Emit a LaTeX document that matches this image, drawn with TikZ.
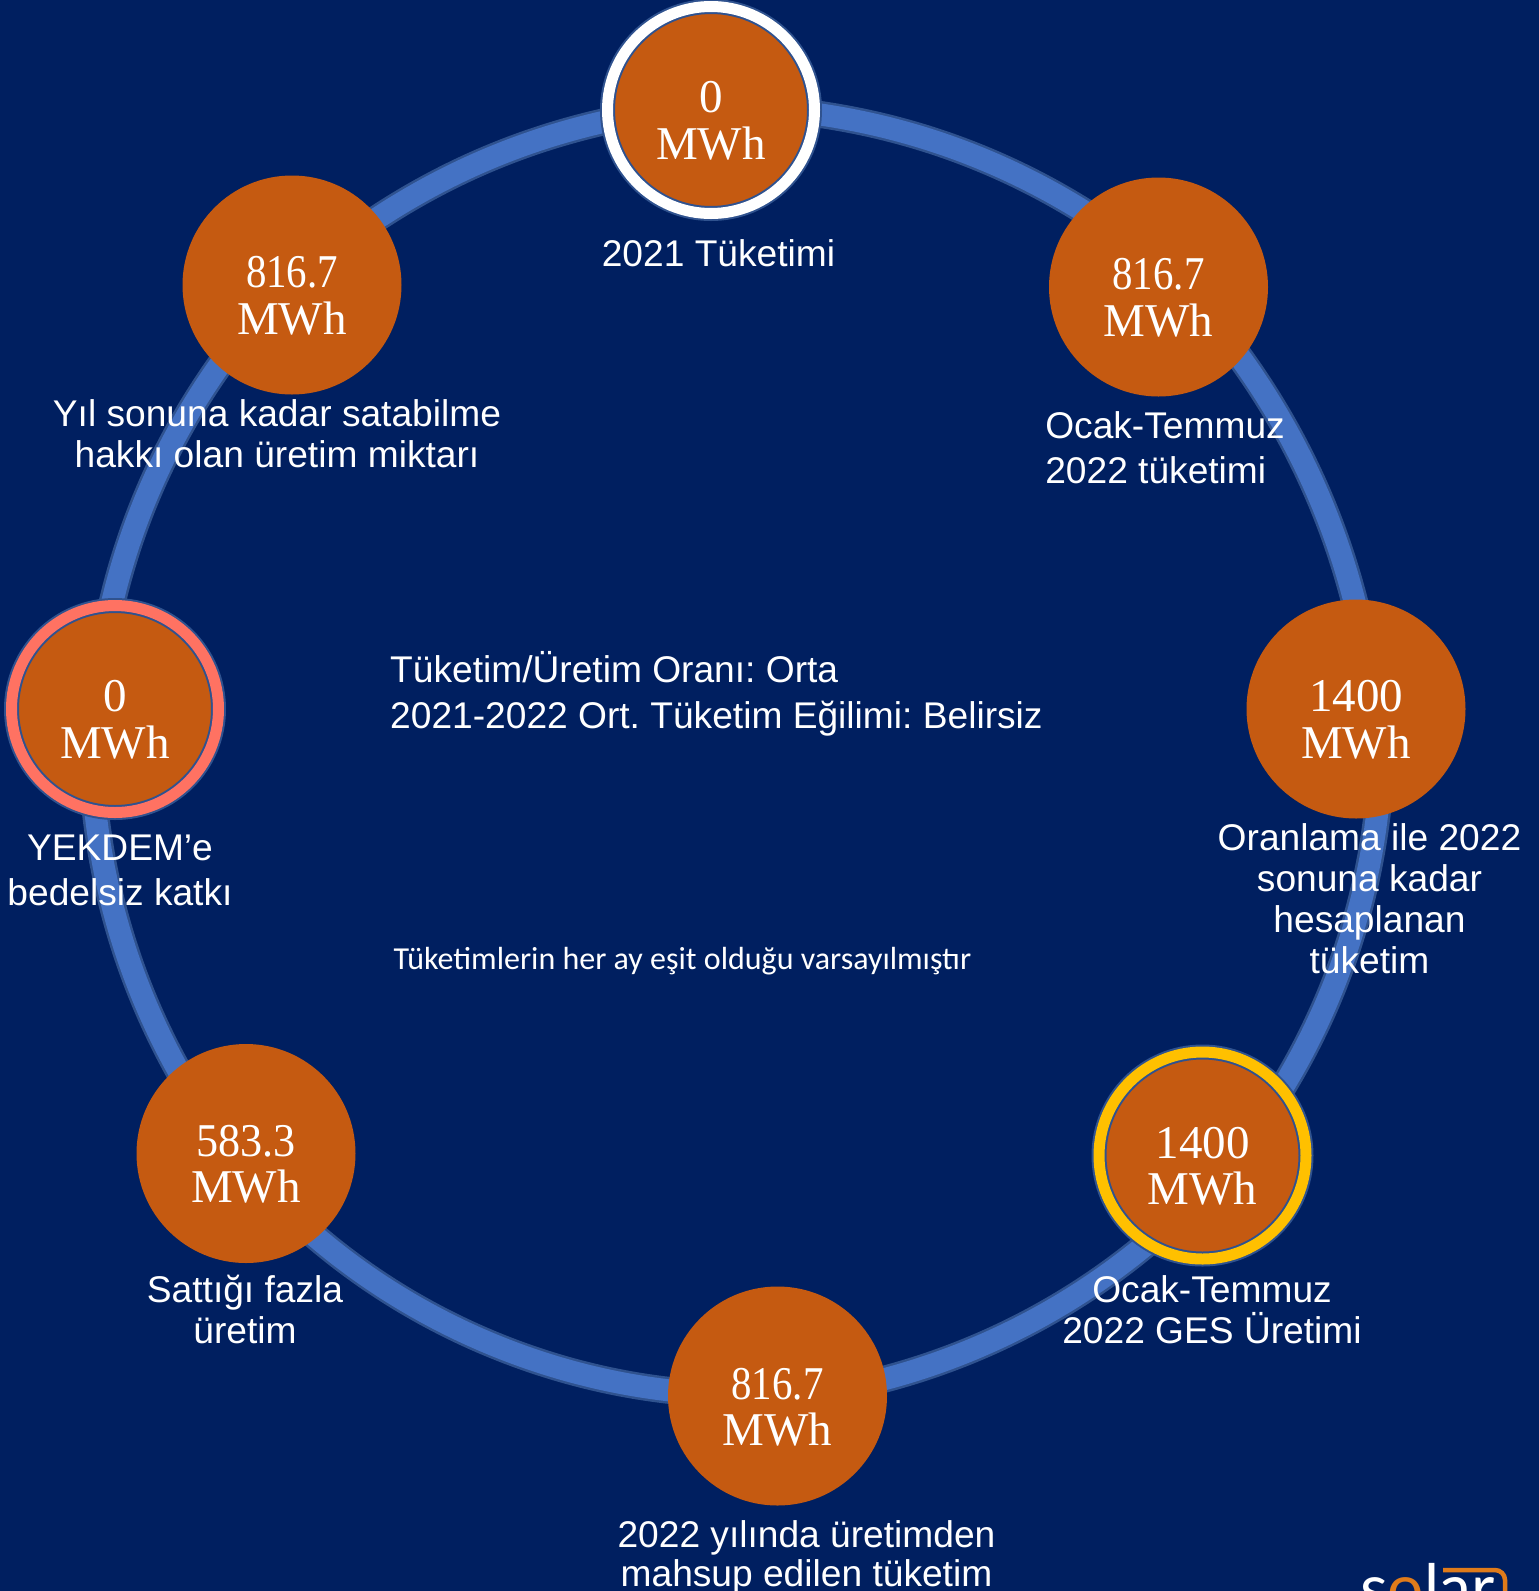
\documentclass[tikz,border=0pt]{standalone}
\usepackage{fontspec}
\setmainfont{Liberation Sans}
\newfontfamily\numfont{Liberation Serif}
\newfontfamily\numnarrow[FakeStretch=.87]{Liberation Serif}
\newfontfamily\numslim[FakeStretch=.94]{Liberation Serif}
\newfontfamily\notefont{Carlito}
\newfontfamily\logofont{Lato}
\usetikzlibrary{backgrounds}
\definecolor{navy}{HTML}{001F60}
\definecolor{ringblue}{HTML}{4472C4}
\definecolor{ringedge}{HTML}{2F528F}
\definecolor{burnt}{HTML}{C55A11}
\definecolor{coral}{HTML}{FF7262}
\definecolor{amber}{HTML}{FFC000}
\definecolor{logoorange}{HTML}{E07B1A}
\tikzstyle{amount} = [circle, minimum size=219, inner sep=0, outer sep=0, fill=burnt, text=white, align=center, text depth=0, font=\fontsize{47}{46}\selectfont\numfont]
\tikzstyle{ringed} = [amount, minimum size=207, draw=ringedge, line width=2, double distance=11]
\tikzstyle{caption} = [text=white, align=center, inner sep=0, font=\fontsize{37.15}{41}\selectfont\frenchspacing]
\tikzstyle{arcline} = [draw=ringedge, line width=2.5, double=ringblue, double distance=22, shorten <=-6pt, shorten >=-6pt]
\newcommand{\mwh}[1]{\raisebox{6pt}{\begin{tabular}{@{}c@{}}#1\\MWh\end{tabular}}}
\begin{document}
\begin{tikzpicture}[x=1pt,y=-1pt]
	\useasboundingbox (0,0) rectangle (1539,1591);
	% amounts round the ring
	\node [ringed, double=white] (tuketim) at (711,110) {\mwh{0}};
	\node [amount] (ocak) at (1158.5,287) {\mwh{{\numnarrow 816.7}}};
	\node [amount] (oranlama) at (1356,709) {\mwh{1400}};
	\node [ringed, double=amber] (ges) at (1202.5,1155.5) {\mwh{1400}};
	\node [amount] (mahsup) at (777.5,1396) {\mwh{{\numnarrow 816.7}}};
	\node [amount] (fazla) at (246,1153.5) {\mwh{{\numslim 583.3}}};
	\node [ringed, double=coral] (yekdem) at (115,709) {\mwh{0}};
	\node [amount] (hak) at (292,285) {\mwh{{\numnarrow 816.7}}};
	\begin{scope}[on background layer]
		\fill[navy] (0,0) rectangle (1539,1591);
		\foreach \a/\s/\b/\e/\v in {tuketim/-2.5/ocak/135/12.4, ocak/-41.5/oranlama/91.6/11, oranlama/-79.4/ges/40.2/12.7, ges/238/mahsup/9.8/12.9, mahsup/177.6/fazla/-50.8/17.4, fazla/129.3/yekdem/259.9/11.8, yekdem/92.1/hak/228.9/11.5, hak/38/tuketim/186.8/10.85}
			\draw[arcline] (\a.\s) to[bend left=\v, looseness=.85] (\b.\e);
	\end{scope}
	% labels
	\node [caption] (l1) at (718.5,253) {2021 Tüketimi};
	\node [caption, align=left] (l2) at (1165,448) {Ocak-Temmuz\\[4pt]2022 tüketimi};
	\node [caption] (l3) at (1369.5,899) {Oranlama ile 2022\\sonuna kadar\\hesaplanan\\tüketim};
	\node [caption] (l4) at (1212,1310) {Ocak-Temmuz\\2022 GES Üretimi};
	\node [caption, font=\fontsize{37.15}{39}\selectfont] (l5) at (806.5,1557) {2022 yılında üretimden\\mahsup edilen tüketim};
	\node [caption] (l6) at (245,1309) {Sattığı fazla\\üretim};
	\node [caption] (l7) at (120,870.5) {YEKDEM’e\\[4pt]bedelsiz katkı};
	\node [caption] (l8) at (277,434) {Yıl sonuna kadar satabilme\\hakkı olan üretim miktarı};
	\node [caption, align=left, anchor=west] (oran) at (390,694) {Tüketim/Üretim Oranı: Orta\\[5pt]2021-2022 Ort. Tüketim Eğilimi: Belirsiz};
	\node [text=white, inner sep=0, anchor=west, font=\fontsize{32}{36}\selectfont\notefont] (not) at (393.5,961) {Tüketimlerin her ay eşit olduğu varsayılmıştır};
	% logo, cut off by the page edge
	\node [text=white, inner sep=0, anchor=base west, font=\fontsize{64}{64}\selectfont\logofont] (logo) at (1360,1610) {s{\color{logoorange}o}lar};
	\draw[logoorange, line width=4.5, rounded corners=10] (1443,1570) -- (1505,1570) -- (1505,1600);
\end{tikzpicture}
\end{document}
